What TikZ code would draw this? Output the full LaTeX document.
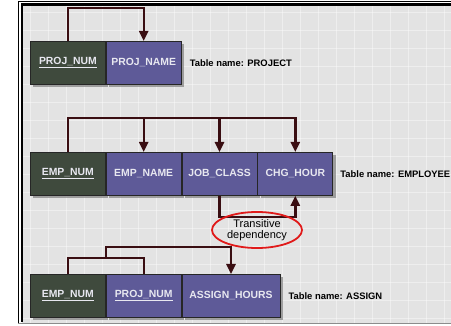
\documentclass[tikz,border=0pt]{standalone}
\usepackage{fontspec}
\setmainfont{Liberation Sans}
\usetikzlibrary{shadows,arrows.meta,shapes.geometric}
\definecolor{keygreen}{HTML}{3F4A3D}
\definecolor{attrpurple}{HTML}{5E5A98}
\definecolor{linkred}{HTML}{3A0E12}
\definecolor{bggray}{HTML}{E3E3E3}
\definecolor{boxtext}{HTML}{E8E8F0}
\definecolor{ovalred}{HTML}{E01A1A}
\tikzset{
  cell/.style={draw=black!85, line width=0.8pt, minimum height=43pt, minimum width=75pt,
    inner sep=0pt, anchor=north west, text=boxtext,
    font=\bfseries\fontsize{10.4}{12}\selectfont,
    drop shadow={shadow xshift=3pt, shadow yshift=-3pt, fill=black!50, opacity=0.7}},
  keycell/.style={cell, fill=keygreen},
  attrcell/.style={cell, fill=attrpurple},
  link/.style={draw=linkred, line width=2.4pt},
  dep/.style={link, -{Triangle[length=10pt,width=9pt]}},
  tname/.style={anchor=west, inner sep=0pt, font=\bfseries\fontsize{9.4}{11}\selectfont, text=black},
  oval/.style={ellipse, draw=ovalred, line width=1.8pt, minimum width=90pt, minimum height=36pt,
    inner sep=0pt, align=center, font=\fontsize{11}{11}\selectfont},
}
\begin{document}
\begin{tikzpicture}[x=1pt,y=-1pt]
\useasboundingbox (0,0) rectangle (451,326);
% background
\begin{scope}
\clip (22,5) rectangle (451,323);
\fill[bggray] (22,5) rectangle (451,323);
\foreach \gx in {30,48,...,450} \draw[white, opacity=0.4, line width=0.7pt] (\gx,5) -- (\gx,323);
\foreach \gy in {12,30,...,322} \draw[white, opacity=0.4, line width=0.7pt] (22,\gy) -- (451,\gy);
\end{scope}
% frame
\draw[black, line width=1.3pt] (451,1.6) -- (18.6,1.6) -- (18.6,324);
\draw[black, line width=2.2pt] (451,4.6) -- (21.8,4.6) -- (21.8,322);
\draw[black!45, line width=0.8pt] (18,323.6) -- (451,323.6);

% PROJECT
\node[keycell] (p1) at (30,41) {\underline{PROJ\_NUM}};
\node[attrcell] (p2) at (p1.north east) {PROJ\_NAME};
\node[tname] (tp) at ([xshift=8pt]p2.east) {Table name: PROJECT};
\draw[dep] (p1.north) -- ++(0,-33) -| (p2.north);

% EMPLOYEE
\node[keycell] (e1) at (30,152) {\underline{EMP\_NUM}};
\node[attrcell] (e2) at (e1.north east) {EMP\_NAME};
\node[attrcell] (e3) at (e2.north east) {JOB\_CLASS};
\node[attrcell] (e4) at (e3.north east) {CHG\_HOUR};
\node[tname] (te) at ([xshift=7pt]e4.east) {Table name: EMPLOYEE};
\draw[dep] (e1.north) |- ([yshift=34pt]e4.north) -- (e4.north);
\draw[dep] ([yshift=34pt]e2.north) -- (e2.north);
\draw[dep] ([yshift=34pt]e3.north) -- (e3.north);
\draw[dep] (e3.south) -- ++(0,21) -| (e4.south);

\node[oval] (td) at (257,230) {Transitive\\dependency};

% ASSIGN
\node[keycell] (a1) at (30,274) {\underline{EMP\_NUM}};
\node[attrcell] (a2) at (a1.north east) {\underline{PROJ\_NUM}};
\node[attrcell, minimum width=98pt] (a3) at (a2.north east) {ASSIGN\_HOURS};
\node[tname] (ta) at ([xshift=8pt]a3.east) {Table name: ASSIGN};
\draw[link] (a1.north) |- ([yshift=16pt]a2.north) -- (a2.north);
\path (a1.north) -- (a2.north) coordinate[pos=0.5] (amid);
\draw[dep] ([yshift=16pt]amid) |- ([yshift=27pt]a3.north) -- (a3.north);
\end{tikzpicture}
\end{document}
